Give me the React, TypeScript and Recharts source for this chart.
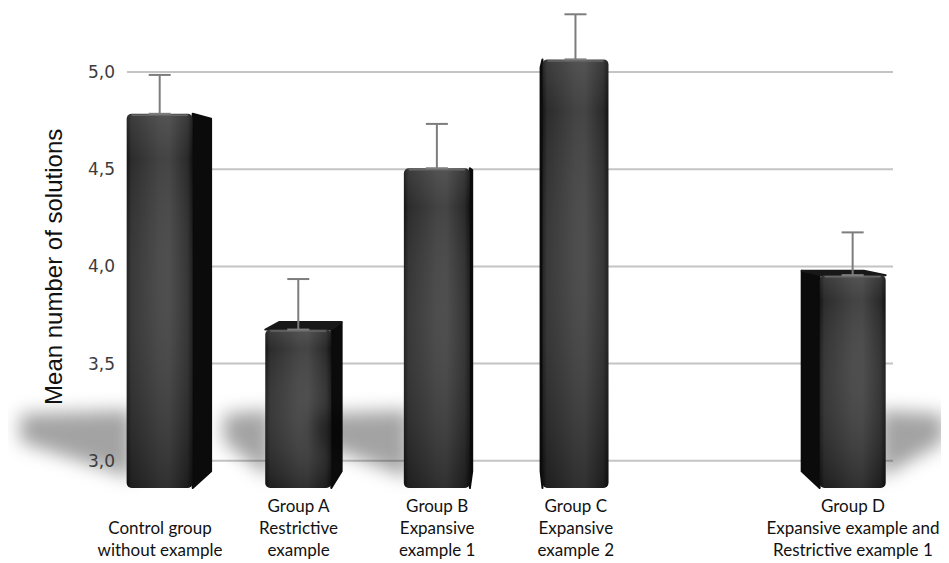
import React from 'react';
import { BarChart, Bar, XAxis, YAxis, CartesianGrid, ErrorBar } from 'recharts';

const positions = [0, 1, 2, 3, 5];
const groupLabels = [
  ['', 'Control group', 'without example'],
  ['Group A', 'Restrictive', 'example'],
  ['Group B', 'Expansive', 'example 1'],
  ['Group C', 'Expansive', 'example 2'],
  ['Group D', 'Expansive example and', 'Restrictive example 1'],
];
const means = [4.785, 3.675, 4.505, 5.065, 3.955];
const upperErrors = [0.2, 0.26, 0.228, 0.232, 0.22];
const yTicks = [3.0, 3.5, 4.0, 4.5, 5.0];

const data = positions.map((p, i) => ({
  x: p,
  mean: means[i],
  err: [0, upperErrors[i]],
}));

const VPX = 502;
const VPY = 191;
const F = 0.058;
const shadowDir = [-1, -1, -1, 0, 1];

const pts = (arr: number[][]) => arr.map((p) => p.join(',')).join(' ');

const Bar3D = (props: any) => {
  const { x, y, width, height, index } = props;
  if (width == null || height == null) return null;
  const fl = x;
  const fr = x + width;
  const ft = y;
  const fb = y + height;
  const bx = (px: number) => px + F * (VPX - px);
  const by = (py: number) => py + F * (VPY - py);
  const dir = shadowDir[index] ?? 0;
  const parts: any[] = [];
  if (dir !== 0) {
    const L = height * 0.3;
    const x0 = dir < 0 ? fl + 6 : fr - 6;
    const shadow = [
      [x0, fb - 10],
      [x0, fb - 78],
      [x0 + dir * L, fb - 74],
      [x0 + dir * L, fb - 46],
    ];
    parts.push(
      <polygon key="sh" points={pts(shadow)} fill="#000" fillOpacity={0.36} filter="url(#shadowBlur)" />
    );
  }
  if (fr < VPX) {
    parts.push(
      <polygon key="rs" points={pts([[fr, ft], [bx(fr), by(ft)], [bx(fr), by(fb)], [fr, fb]])} fill="#0b0b0b" stroke="#0b0b0b" strokeLinejoin="round" strokeWidth={2} />
    );
  }
  if (fl > VPX) {
    parts.push(
      <polygon key="ls" points={pts([[fl, ft], [bx(fl), by(ft)], [bx(fl), by(fb)], [fl, fb]])} fill="#0b0b0b" stroke="#0b0b0b" strokeLinejoin="round" strokeWidth={2} />
    );
  }
  if (ft > VPY) {
    parts.push(
      <polygon key="tp" points={pts([[fl, ft], [fr, ft], [bx(fr), by(ft)], [bx(fl), by(ft)]])} fill="#181818" stroke="#181818" strokeLinejoin="round" strokeWidth={2} />
    );
  }
  parts.push(<rect key="f" x={fl} y={ft} width={width} height={height} rx={5} fill="url(#faceGrad)" />);
  parts.push(<rect key="fs" x={fl} y={ft} width={width} height={height} rx={5} fill="url(#faceShade)" />);
  parts.push(<line key="hl" x1={fl + 5} x2={fr - 5} y1={ft + 1.5} y2={ft + 1.5} stroke="#666" strokeWidth={1.5} />);
  return <g>{parts}</g>;
};

const XTick = (props: any) => {
  const { x, y, payload } = props;
  const i = positions.indexOf(payload.value);
  if (i < 0) return null;
  const lines = groupLabels[i];
  return (
    <g>
      {lines.map((t, k) => (
        <text
          key={k}
          x={x}
          y={y + 24 + k * 22}
          textAnchor="middle"
          fontFamily="Lato, 'Open Sans', sans-serif"
          fontSize={17}
          fill="#111"
        >
          {t}
        </text>
      ))}
    </g>
  );
};

const YLabel = (props: any) => {
  const vb = props.viewBox || { x: 0, y: 5.7, width: 119, height: 474.3 };
  const cx = (vb.x || 0) + 54.5;
  const cy = vb.y + vb.height / 2 + 16;
  return (
    <text
      x={cx}
      y={cy}
      transform={`rotate(-90, ${cx}, ${cy})`}
      textAnchor="middle"
      fontFamily="'Liberation Sans', Arial, sans-serif"
      fontSize={24}
      fill="#111"
    >
      Mean number of solutions
    </text>
  );
};

export default function App() {
  return (
    <BarChart
      width={941}
      height={555}
      data={data}
      margin={{ top: 5.7, right: 56, bottom: 0, left: 0 }}
    >
      <defs>
        <linearGradient id="faceGrad" x1="0" y1="0" x2="1" y2="0">
          <stop offset="0" stopColor="#141414" />
          <stop offset="0.07" stopColor="#2c2c2c" />
          <stop offset="0.5" stopColor="#434343" />
          <stop offset="0.64" stopColor="#454545" />
          <stop offset="0.92" stopColor="#2a2a2a" />
          <stop offset="1" stopColor="#111" />
        </linearGradient>
        <linearGradient id="faceShade" x1="0" y1="0" x2="0" y2="1">
          <stop offset="0" stopColor="#fff" stopOpacity={0.08} />
          <stop offset="0.12" stopColor="#fff" stopOpacity={0} />
          <stop offset="1" stopColor="#000" stopOpacity={0.3} />
        </linearGradient>
        <filter id="shadowBlur" x="-100%" y="-100%" width="300%" height="300%">
          <feGaussianBlur stdDeviation="9" />
        </filter>
      </defs>
      <CartesianGrid horizontal vertical={false} horizontalValues={yTicks} stroke="#c4c4c4" strokeWidth={2} />
      <XAxis
        dataKey="x"
        type="number"
        domain={[-0.238, 5.289]}
        ticks={positions}
        interval={0}
        axisLine={false}
        tickLine={false}
        tickSize={0}
        tickMargin={0}
        height={75}
        tick={<XTick />}
      />
      <YAxis
        type="number"
        domain={[2.86, 5.3]}
        ticks={yTicks}
        interval={0}
        width={119}
        axisLine={false}
        tickLine={false}
        tickSize={6}
        tickMargin={6}
        tickFormatter={(v: number) => v.toFixed(1).replace('.', ',')}
        tick={{ fontFamily: "'DejaVu Sans', sans-serif", fontSize: 17, fill: '#3c3c3c' }}
        label={<YLabel />}
      />
      <Bar dataKey="mean" barSize={66} isAnimationActive={false} shape={<Bar3D />}>
        <ErrorBar dataKey="err" width={11} stroke="#7d7d7d" strokeWidth={2} direction="y" />
      </Bar>
    </BarChart>
  );
}
